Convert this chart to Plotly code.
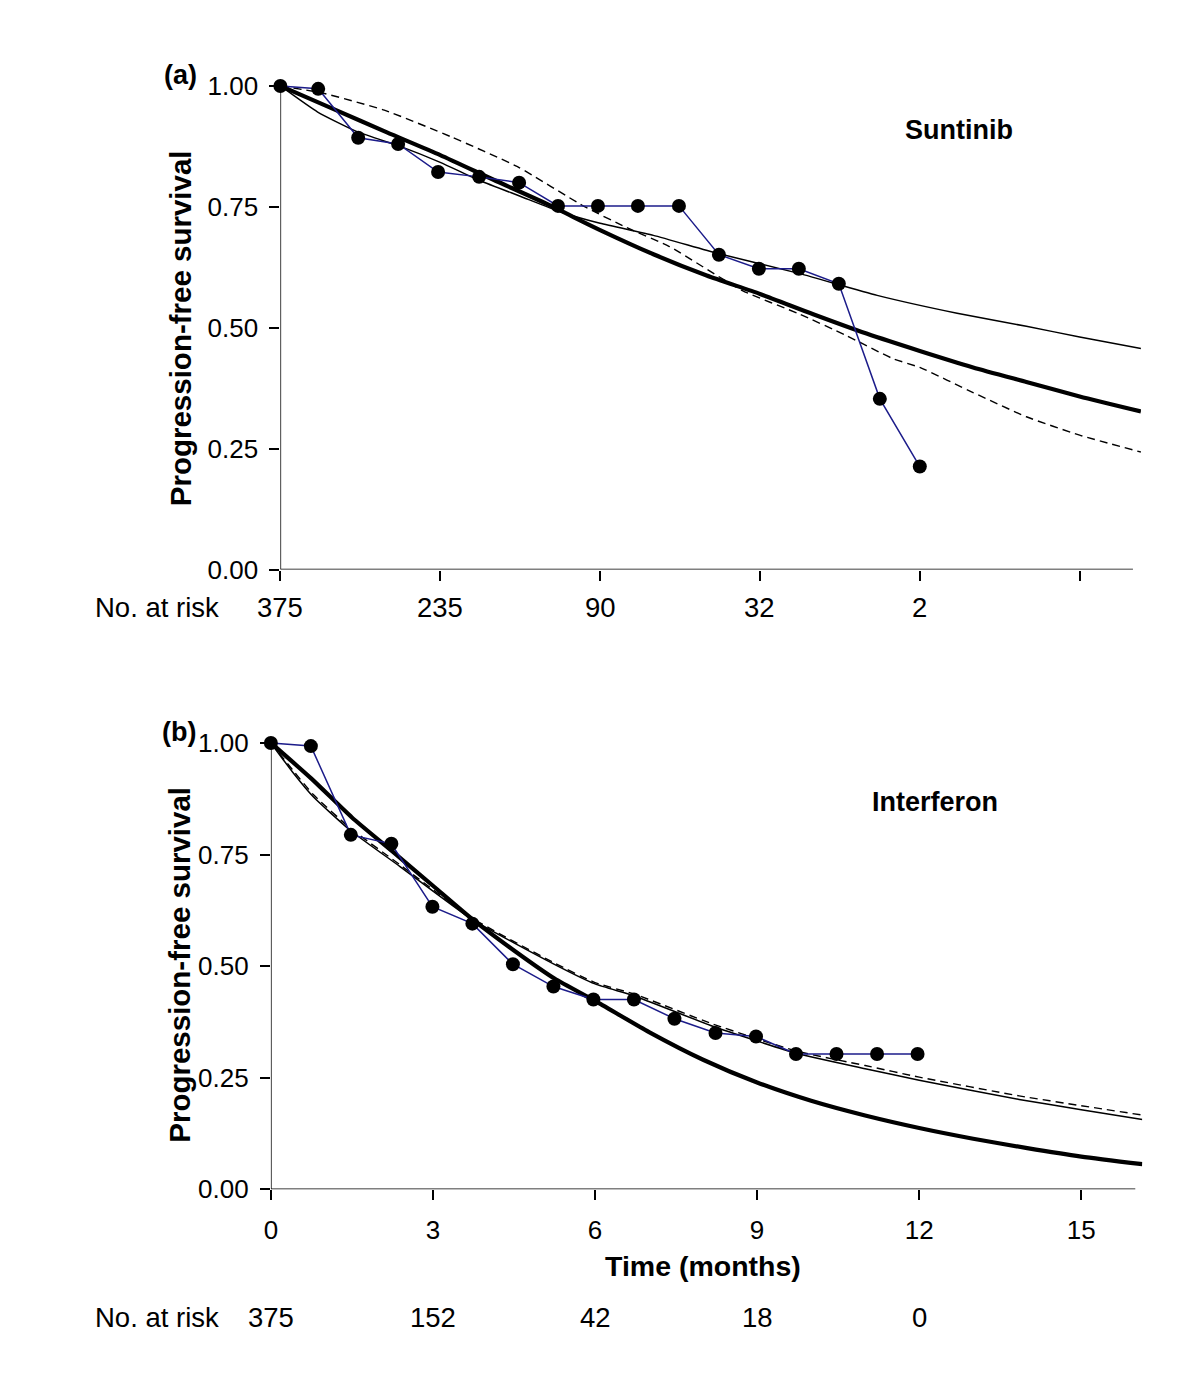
import plotly.graph_objects as go

# ---- panel (a) Sunitinib ----
km_time_a = [0, 0.71, 1.46, 2.21, 2.96, 3.73, 4.48, 5.21, 5.96, 6.71, 7.48, 8.23, 8.98, 9.73, 10.48, 11.25, 12.0]
km_surv_a = [1.00, 0.994, 0.893, 0.880, 0.822, 0.812, 0.800, 0.752, 0.752, 0.752, 0.752, 0.651, 0.622, 0.622, 0.591, 0.353, 0.213]

thick_time_a = [0, 1, 2, 3, 4, 5, 6, 7, 8, 9, 10, 11, 12, 13, 14, 15, 16.15]
thick_surv_a = [1.0, 0.952, 0.904, 0.857, 0.806, 0.756, 0.702, 0.652, 0.608, 0.570, 0.528, 0.488, 0.452, 0.418, 0.388, 0.358, 0.327]

thin_time_a = [0, 0.7, 1.45, 2.25, 3, 3.75, 4.5, 5.25, 6, 7, 8.2, 9.75, 11.2, 12.7, 14, 15, 16.15]
thin_surv_a = [1.0, 0.946, 0.905, 0.875, 0.842, 0.804, 0.772, 0.740, 0.716, 0.691, 0.654, 0.612, 0.567, 0.530, 0.503, 0.481, 0.457]

dash_time_a = [0, 0.8, 1.95, 3.2, 4.45, 5.7, 6.5, 7.3, 8.67, 9.75, 10.6, 11.5, 12, 13, 14, 15, 16.15]
dash_surv_a = [1.0, 0.985, 0.950, 0.895, 0.833, 0.751, 0.707, 0.668, 0.577, 0.528, 0.485, 0.436, 0.418, 0.366, 0.316, 0.278, 0.243]

risk_time = [0, 3, 6, 9, 12]
risk_a = ["375", "235", "90", "32", "2"]

# ---- panel (b) Interferon ----
km_time_b = [0, 0.74, 1.48, 2.23, 2.99, 3.73, 4.48, 5.23, 5.97, 6.72, 7.47, 8.23, 8.98, 9.72, 10.47, 11.22, 11.97]
km_surv_b = [1.00, 0.993, 0.794, 0.774, 0.633, 0.595, 0.504, 0.454, 0.425, 0.425, 0.382, 0.350, 0.342, 0.303, 0.303, 0.303, 0.303]

thick_time_b = [0, 0.75, 1.5, 2.25, 3, 3.75, 4.5, 5.25, 6, 7, 8, 9, 10, 11, 12, 13, 14, 15, 16.13]
thick_surv_b = [1.0, 0.920, 0.833, 0.757, 0.680, 0.603, 0.535, 0.472, 0.422, 0.352, 0.290, 0.239, 0.198, 0.165, 0.137, 0.113, 0.092, 0.073, 0.056]

thin_time_b = [0, 0.4, 0.78, 1.46, 2.39, 3.73, 5.23, 6, 6.73, 8.18, 9.74, 11, 12, 13.85, 15, 16.13]
thin_surv_b = [1.0, 0.935, 0.880, 0.805, 0.723, 0.604, 0.505, 0.460, 0.433, 0.365, 0.304, 0.270, 0.244, 0.201, 0.178, 0.156]

dash_time_b = [0, 0.4, 0.78, 1.46, 2.39, 3.73, 5.23, 6, 6.73, 8.18, 9.74, 11, 12, 13.85, 15, 16.13]
dash_surv_b = [1.0, 0.940, 0.885, 0.810, 0.727, 0.607, 0.508, 0.463, 0.437, 0.370, 0.309, 0.277, 0.251, 0.209, 0.187, 0.166]

risk_b = ["375", "152", "42", "18", "0"]

yticks = [0, 0.25, 0.5, 0.75, 1.0]
ytext = ["0.00", "0.25", "0.50", "0.75", "1.00"]

W, H = 1200, 1379
FONT = "Liberation Sans, Arial, sans-serif"


# the page adds a small offset/scale; map reference pixels to layout pixels
def PX(x):
    return (x - 14.4) / 0.995


def PY(y):
    return (y - 14) / 0.9855


fig = go.Figure()


def add_panel(xa, ya, thick_t, thick_s, thin_t, thin_s, dash_t, dash_s, km_t, km_s):
    common = dict(xaxis=xa, yaxis=ya, mode="lines", hoverinfo="skip", showlegend=False)
    fig.add_trace(go.Scatter(x=dash_t, y=dash_s, line=dict(color="black", width=1.4, dash="8px,5px", shape="spline", smoothing=0.5), **common))
    fig.add_trace(go.Scatter(x=thin_t, y=thin_s, line=dict(color="black", width=1.5, shape="spline", smoothing=0.5), **common))
    fig.add_trace(go.Scatter(x=thick_t, y=thick_s, line=dict(color="black", width=4.2, shape="spline", smoothing=0.6), **common))
    fig.add_trace(go.Scatter(x=km_t, y=km_s, xaxis=xa, yaxis=ya, mode="lines+markers",
                             line=dict(color="#1c1c8a", width=1.5),
                             marker=dict(color="black", size=14),
                             cliponaxis=False, showlegend=False))


add_panel("x", "y", thick_time_a, thick_surv_a, thin_time_a, thin_surv_a, dash_time_a, dash_surv_a, km_time_a, km_surv_a)
add_panel("x2", "y2", thick_time_b, thick_surv_b, thin_time_b, thin_surv_b, dash_time_b, dash_surv_b, km_time_b, km_surv_b)

# reference-pixel geometry of the two plot areas
ax_a = dict(x0=280, xmax=16.15, ppm=53.33, y0=570, y1=86)
ax_b = dict(x0=270.5, xmax=16.13, ppm=54.07, y0=1190, y1=743.5)


def dom(ax):
    xr = ax["x0"] + ax["xmax"] * ax["ppm"]
    ytop = ax["y1"] - 0.02 * (ax["y0"] - ax["y1"])
    return [PX(ax["x0"]) / W, PX(xr) / W], [1 - PY(ax["y0"]) / H, 1 - PY(ytop) / H]


xd_a, yd_a = dom(ax_a)
xd_b, yd_b = dom(ax_b)

tickfont = dict(family=FONT, size=26, color="black")
xcommon = dict(showgrid=False, zeroline=False, showline=False, ticks="outside", ticklen=10,
               tickwidth=1.5, tickcolor="black", tickvals=[0, 3, 6, 9, 12, 15], tickfont=tickfont)
ycommon = dict(showgrid=False, zeroline=False, showline=False, ticks="outside", ticklen=10,
               tickwidth=1.5, tickcolor="black", tickvals=yticks, ticktext=ytext, tickfont=tickfont,
               range=[0, 1.02], ticklabelstandoff=6)

fig.update_layout(
    width=W, height=H,
    margin=dict(l=0, r=0, t=0, b=0),
    paper_bgcolor="white", plot_bgcolor="white",
    showlegend=False,
    xaxis=dict(domain=xd_a, range=[0, ax_a["xmax"]], showticklabels=False, anchor="y", **xcommon),
    yaxis=dict(domain=yd_a, anchor="x", **ycommon),
    xaxis2=dict(domain=xd_b, range=[0, ax_b["xmax"]], anchor="y2", ticklabelstandoff=8, **xcommon),
    yaxis2=dict(domain=yd_b, anchor="x2", **ycommon),
)

# axis lines (stop at 16 months / 1.00)
for xr, yr in (("x", "y"), ("x2", "y2")):
    fig.add_shape(type="line", xref=xr, yref=yr, x0=0, x1=16, y0=0, y1=0, line=dict(color="black", width=1.5))
    fig.add_shape(type="line", xref=xr, yref=yr, x0=0, x1=0, y0=0, y1=1, line=dict(color="black", width=1.5))


def note(text, x, y, size, bold=False, angle=0, xanchor="center", xref="paper"):
    fig.add_annotation(text=f"<b>{text}</b>" if bold else text,
                       x=x if xref != "paper" else PX(x) / W, y=1 - PY(y) / H,
                       xref=xref, yref="paper", showarrow=False, textangle=angle,
                       xanchor=xanchor, yanchor="middle",
                       font=dict(family=FONT, size=size, color="black"))


note("(a)", 180, 75, 27, bold=True)
note("Suntinib", 959, 130, 27, bold=True)
note("Progression-free survival", 180, 328, 29.5, bold=True, angle=-90)
note("No. at risk", 92, 608, 27.5, xanchor="left")
for t, r in zip(risk_time, risk_a):
    note(r, t, 608, 27.5, xref="x")

note("(b)", 179, 733, 27, bold=True)
note("Interferon", 935, 803, 27, bold=True)
note("Progression-free survival", 179, 965, 29.5, bold=True, angle=-90)
note("Time (months)", 703, 1267, 28.5, bold=True)
note("No. at risk", 92, 1318, 27.5, xanchor="left")
for t, r in zip(risk_time, risk_b):
    note(r, t, 1318, 27.5, xref="x2")

fig.write_html("out.html")
